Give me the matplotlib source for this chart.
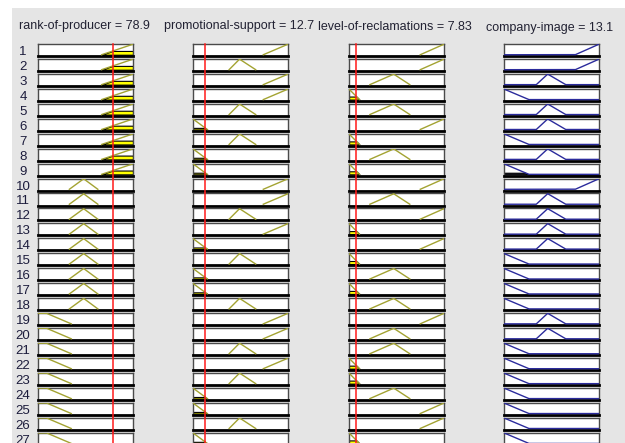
import numpy as np
import matplotlib
matplotlib.use("Agg")
import matplotlib.pyplot as plt
from matplotlib.patches import Rectangle

plt.rcParams['font.family'] = ['Liberation Sans', 'DejaVu Sans']

# Fuzzy system
input_names = ["rank-of-producer", "promotional-support", "level-of-reclamations"]
input_values = [78.9, 12.7, 7.83]
output_name = "company-image"
output_value = 13.1

# trapezoid params [a, b, c, d] for each variable (range 0..100)
rank_mfs = {"low": [0, 0, 9, 35], "medium": [33, 48, 48, 63], "high": [67, 100, 100, 100]}
promo_mfs = {"low": [0, 0, 0, 15], "medium": [38, 49, 49, 66], "high": [74, 100, 100, 100]}
recl_mfs = {"low": [0, 0, 0, 11], "medium": [22, 47, 47, 64], "high": [75, 100, 100, 100]}
image_mfs = {"low": [0, 0, 0, 26], "medium": [34, 46, 46, 65], "high": [75, 100, 100, 100]}

# rule table (27 rules shown)
rule_rank = ["high"] * 9 + ["medium"] * 9 + ["low"] * 9
rule_promo = ["high", "medium", "high", "high", "medium", "low", "medium", "low", "low",
              "high", "high", "medium", "high", "low", "medium", "low", "low", "medium",
              "high", "high", "medium", "high", "medium", "low", "low", "medium", "low"]
rule_recl = ["high", "high", "medium", "low", "medium", "high", "low", "medium", "low",
             "high", "medium", "high", "low", "high", "low", "medium", "low", "medium",
             "high", "medium", "medium", "low", "low", "medium", "high", "high", "low"]
rule_image = ["high", "high", "medium", "low", "medium", "medium", "low", "medium", "low",
              "high", "medium", "medium", "medium", "medium", "low", "low", "low", "low",
              "medium", "medium", "low", "low", "low", "low", "low", "low", "low"]


def trap(x, p):
    a, b, c, d = p
    x = np.asarray(x, dtype=float)
    y = np.ones_like(x)
    if b > a:
        y = np.minimum(y, (x - a) / (b - a))
    else:
        y = np.where(x >= a, y, 0.0)
    if d > c:
        y = np.minimum(y, (d - x) / (d - c))
    else:
        y = np.where(x <= d, y, 0.0)
    return np.clip(y, 0, 1)


W, H = 625, 443
fig = plt.figure(figsize=(W / 100, H / 100), dpi=100, facecolor="#e5e5e5")
# white margins on top and left
fig.patches.append(Rectangle((0, (H - 7.5) / H), 1, 1, transform=fig.transFigure,
                             facecolor="white", edgecolor="none", zorder=-10))
fig.patches.append(Rectangle((0, 0), 12 / W, 1, transform=fig.transFigure,
                             facecolor="white", edgecolor="none", zorder=-10))

col_left = [38, 193, 349, 504]
box_w = 95
box_h = 12
row_top0 = 44
pitch = 14.95

in_mfs = [rank_mfs, promo_mfs, recl_mfs]
in_rules = [rule_rank, rule_promo, rule_recl]
olive = "#a3a332"
navy = "#2b2b9c"

# firing strengths
strength = []
for r in range(27):
    mus = [trap(input_values[k], in_mfs[k][in_rules[k][r]]) for k in range(3)]
    strength.append(float(min(mus)))

n_rows = len(rule_rank)
for r in range(n_rows):
    top = row_top0 + r * pitch
    y0 = (H - top - box_h) / H
    fig.text(23 / W, (H - top - 11) / H, str(r + 1), ha="center", va="baseline",
             fontsize=9.5, color="#1c1c3c")
    for c in range(4):
        ax = fig.add_axes([col_left[c] / W, y0, box_w / W, box_h / H])
        ax.set_xlim(0, 100)
        ax.set_ylim(-0.12, 1.02)
        ax.set_xticks([])
        ax.set_yticks([])
        ax.set_facecolor("white")
        for s in ["top", "left", "right"]:
            ax.spines[s].set_color("#4a4a4a")
            ax.spines[s].set_linewidth(1.0)
        ax.spines["bottom"].set_color("black")
        ax.spines["bottom"].set_linewidth(2.0)
        if c < 3:
            p = in_mfs[c][in_rules[c][r]]
            xs = np.linspace(p[0], p[3], 200)
            mf = trap(xs, p)
            mu = float(trap(input_values[c], p))
            if mu > 0:
                ax.fill_between(xs, 0, np.minimum(mf, mu), facecolor="#ffff00",
                                edgecolor="black", linewidth=0.8, zorder=2)
            ax.plot(xs, mf, color=olive, lw=1.0, zorder=3)
            ax.axvline(input_values[c], ymin=-1.2 if r == n_rows - 1 else -0.3, ymax=1,
                       color="#ff1a1a", lw=1.1, clip_on=False, zorder=5)
        else:
            p = image_mfs[rule_image[r]]
            xs = np.linspace(0, 100, 401)
            mf = trap(xs, p)
            if strength[r] > 0:
                ax.fill_between(xs, 0, np.minimum(mf, strength[r]), facecolor="#101030",
                                edgecolor="black", linewidth=0.8, zorder=2)
            ax.plot(xs, mf, color=navy, lw=1.0, zorder=3)

# column titles
title_base = [29.5, 29.5, 29.5, 31.5]
titles = [f"{n} = {v:g}" for n, v in zip(input_names, input_values)] + [f"{output_name} = {output_value:g}"]
for c in range(4):
    fig.text((col_left[c] + box_w / 2 - 1.5) / W, (H - title_base[c]) / H, titles[c],
             ha="center", va="baseline", fontsize=9, color="#222233")

fig.savefig("out.png", dpi=100, facecolor=fig.get_facecolor())
